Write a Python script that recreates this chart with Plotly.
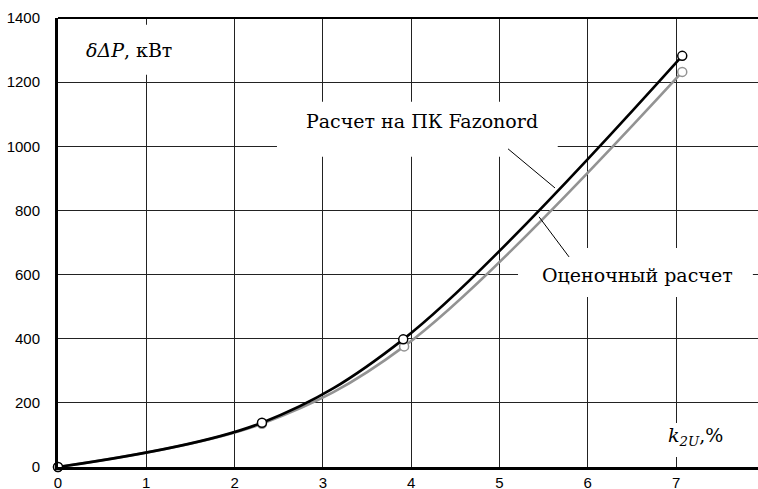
import plotly.graph_objects as go

# k2U, % — points where the losses were evaluated
k2u_fazonord = [0.0, 2.31, 3.91, 7.07]
dp_fazonord = [0, 138, 398, 1282]

k2u_estimate = [0.0, 2.31, 3.92, 7.07]
dp_estimate = [0, 135, 376, 1232]

x_ticks = [0, 1, 2, 3, 4, 5, 6, 7]
y_ticks = [0, 200, 400, 600, 800, 1000, 1200, 1400]

label_fazonord = "Расчет на ПК Fazonord"
label_estimate = "Оценочный расчет"
y_title = "<i>δΔP</i>, кВт"
x_title = "<i>k</i><sub><i>2U</i></sub>,%"

SERIF = "DejaVu Serif"
SANS = "Liberation Sans"

fig = go.Figure()

fig.add_trace(go.Scatter(
    x=k2u_estimate, y=dp_estimate, mode="lines+markers",
    line=dict(color="#939393", width=2.6, shape="spline", smoothing=1.0),
    marker=dict(symbol="circle", size=9, color="white",
                line=dict(color="#939393", width=1.5)),
    showlegend=False, cliponaxis=False,
))
fig.add_trace(go.Scatter(
    x=k2u_fazonord, y=dp_fazonord, mode="lines+markers",
    line=dict(color="black", width=2.6, shape="spline", smoothing=1.0),
    marker=dict(symbol="circle", size=9, color="white",
                line=dict(color="black", width=1.5)),
    showlegend=False, cliponaxis=False,
))

# white panels behind the captions, over the grid but under the curves
panels = [
    (2.48, 5.66, 967, 1139),
    (0.19, 1.50, 1223, 1379),
    (5.21, 7.87, 530, 683),
    (6.70, 7.72, 31, 137),
]
shapes = [
    dict(type="rect", xref="x", yref="y", x0=a, x1=b, y0=c, y1=d,
         fillcolor="white", line=dict(width=0), layer="between")
    for a, b, c, d in panels
]
# leader lines from captions to curves
shapes += [
    dict(type="line", xref="x", yref="y", x0=5.097, y0=992, x1=5.629, y1=870,
         line=dict(color="black", width=1)),
    dict(type="line", xref="x", yref="y", x0=5.448, y0=780, x1=5.788, y1=655,
         line=dict(color="black", width=1)),
    # top frame line
    dict(type="line", xref="paper", yref="paper", x0=0, x1=1, y0=1, y1=1,
         line=dict(color="black", width=2)),
]

annotations = [
    dict(x=4.117, y=1080, text=label_fazonord, showarrow=False,
         font=dict(family=SERIF, size=19, color="black")),
    dict(x=6.563, y=600, text=label_estimate, showarrow=False,
         font=dict(family=SERIF, size=19, color="black")),
    dict(x=0.804, y=1300, text=y_title, showarrow=False,
         font=dict(family=SERIF, size=19, color="black")),
    dict(x=7.215, y=95, text=x_title, showarrow=False,
         font=dict(family=SERIF, size=19, color="black")),
]

fig.update_layout(
    width=758, height=489,
    margin=dict(l=58, r=0, t=18, b=22, autoexpand=False),
    paper_bgcolor="white", plot_bgcolor="white",
    shapes=shapes, annotations=annotations,
    xaxis=dict(
        range=[0, 7.928], tickvals=x_ticks, ticks="",
        showgrid=True, gridcolor="#222222", gridwidth=1.4,
        zeroline=False, showline=True, linecolor="black", linewidth=3,
        tickfont=dict(family=SANS, size=15, color="black"),
        ticklabelstandoff=0, automargin=False,
    ),
    yaxis=dict(
        range=[0, 1400], tickvals=y_ticks, ticks="",
        showgrid=True, gridcolor="#222222", gridwidth=1.4,
        zeroline=False, showline=True, linecolor="black", linewidth=3,
        tickfont=dict(family=SANS, size=15, color="black"),
        ticklabelstandoff=12, automargin=False,
    ),
)

fig.write_html("out.html")
